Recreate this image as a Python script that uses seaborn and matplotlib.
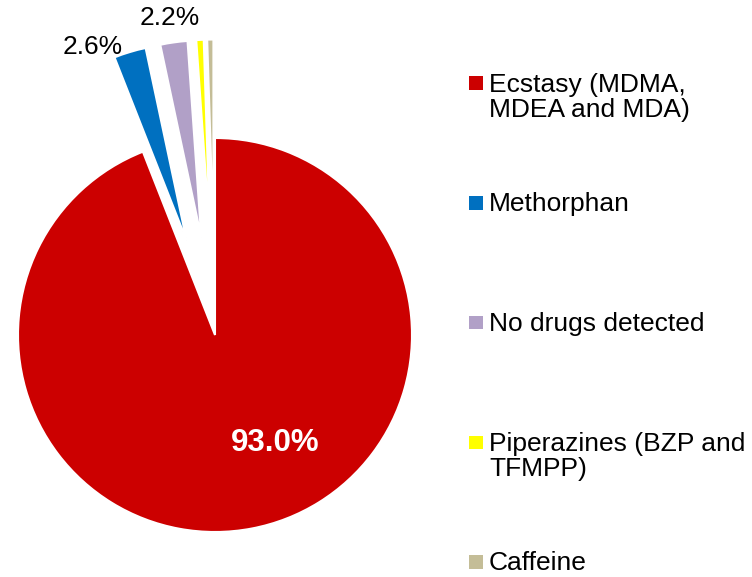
import matplotlib
matplotlib.use("Agg")
import matplotlib.pyplot as plt
from matplotlib.patches import Rectangle
import seaborn as sns

categories = ["Ecstasy (MDMA,\nMDEA and MDA)", "Methorphan", "No drugs detected",
              "Piperazines (BZP and\nTFMPP)", "Caffeine"]
values = [93.0, 2.6, 2.2, 0.6, 0.5]
shown_labels = ["93.0%", "2.6%", "2.2%", "", ""]
colors = ["#CC0000", "#0070C0", "#B1A0C7", "#FFFF00", "#C4BD97"]

sns.set_theme(style="white")
plt.rcParams["font.family"] = ["Liberation Sans", "DejaVu Sans"]

W, H = 752, 577
fig = plt.figure(figsize=(W / 100, H / 100), dpi=100)
ax = fig.add_axes([0, 0, 1, 1])

# pie radius 197 px, centre at (215, 335) px
r = 197.0
cx, cy = 215.0, 335.0
ax.pie(values, colors=colors, startangle=90, counterclock=False,
       explode=[0, 0.5, 0.5, 0.5, 0.5],
       wedgeprops=dict(edgecolor="white", linewidth=1.5))
ax.set_xlim(-cx / r, (W - cx) / r)
ax.set_ylim(-(H - cy) / r, cy / r)
ax.axis("off")

# data labels (pixel positions)
def px(x, y):
    return (x - cx) / r, (cy - y) / r

ax.text(*px(275, 443), shown_labels[0], color="white", fontsize=22.5,
        fontweight="bold", ha="center", va="center")
ax.text(*px(92.5, 47.5), shown_labels[1], color="black", fontsize=19,
        ha="center", va="center")
ax.text(*px(169.5, 18.3), shown_labels[2], color="black", fontsize=19,
        ha="center", va="center")

# legend on the right
top0 = 72.5
step = 119.7
for i, (lab, col) in enumerate(zip(categories, colors)):
    ytop = top0 + i * step
    fig.add_artist(Rectangle((469.3 / W, 1 - (ytop + 17.4) / H), 13.4 / W, 13.4 / H,
                             transform=fig.transFigure, facecolor=col, edgecolor="none"))
    fig.text(489 / W, 1 - ytop / H, lab, fontsize=19, va="top", ha="left",
             linespacing=1.08, color="black")

fig.savefig("out.png", dpi=100)
